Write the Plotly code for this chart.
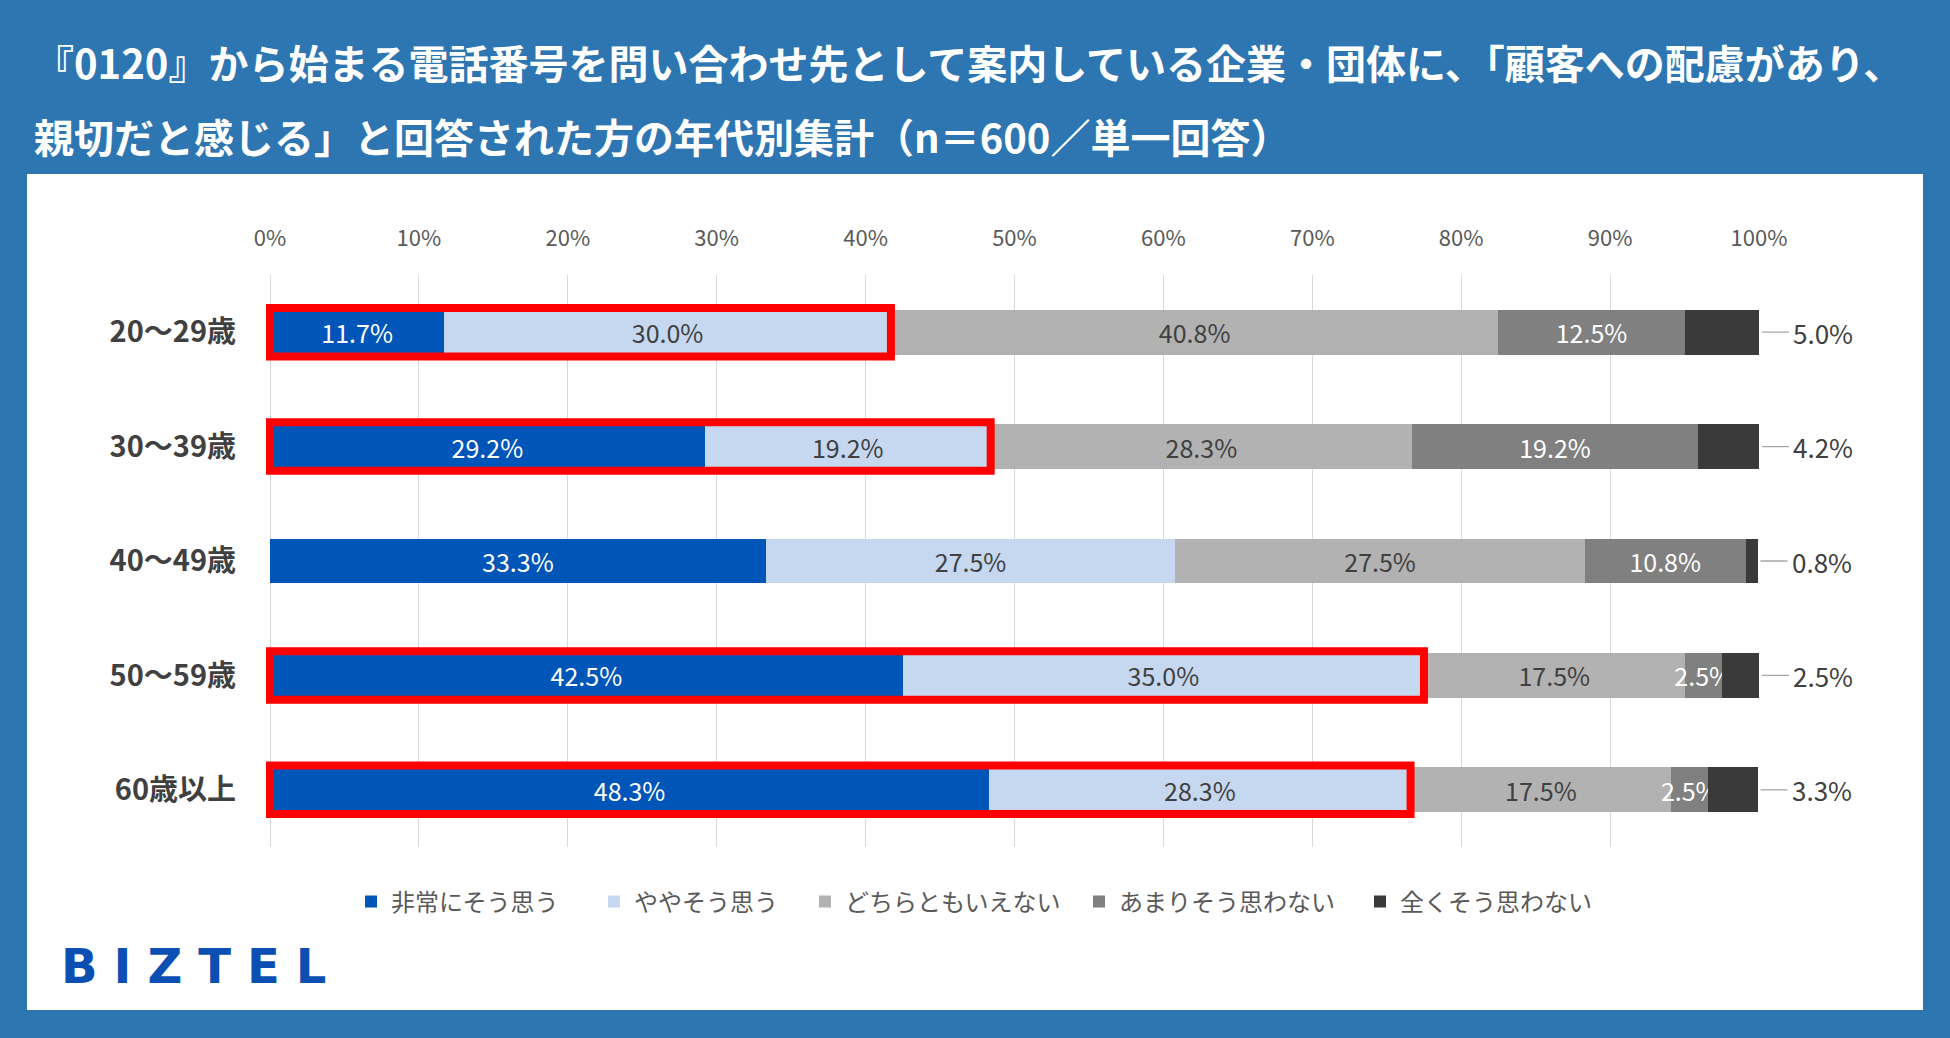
import plotly.graph_objects as go

categories = ["20〜29歳", "30〜39歳", "40〜49歳", "50〜59歳", "60歳以上"]
series_names = ["非常にそう思う", "ややそう思う", "どちらともいえない", "あまりそう思わない", "全くそう思わない"]
v_very = [11.7, 29.2, 33.3, 42.5, 48.3]
v_some = [30.0, 19.2, 27.5, 35.0, 28.3]
v_neutral = [40.8, 28.3, 27.5, 17.5, 17.5]
v_notmuch = [12.5, 19.2, 10.8, 2.5, 2.5]
v_notatall = [5.0, 4.2, 0.8, 2.5, 3.3]
highlight = [True, True, False, True, True]
x_ticks = [0, 10, 20, 30, 40, 50, 60, 70, 80, 90, 100]

title_line1 = "『0120』から始まる電話番号を問い合わせ先として案内している企業・団体に、「顧客への配慮があり、"
title_line2 = "親切だと感じる」と回答された方の年代別集計（n＝600／単一回答）"

colors = ["#0055B8", "#C6D8F0", "#B2B2B2", "#808080", "#3A3A3A"]
text_colors = ["#FFFFFF", "#404040", "#404040", "#FFFFFF", "#FFFFFF"]
series = [v_very, v_some, v_neutral, v_notmuch, v_notatall]
legend_square_px = [376, 619, 830, 1104, 1385]

JP = "Noto Sans CJK JP"

W, H = 1950, 1038
L, R, T, B = 263, 191, 275, 191
PW, PH = W - L - R, H - T - B
X_MIN = -0.47


def px_x(px):
    return (px - L) / PW


def px_y(py):
    return (H - B - py) / PH


fig = go.Figure()
for k, (name, vals) in enumerate(zip(series_names, series)):
    last = k == len(series) - 1
    fig.add_trace(go.Bar(
        y=categories, x=vals, name=name, orientation="h",
        marker=dict(color=colors[k], line=dict(width=0)),
        width=0.39,
        text=None if last else [f"{v:.1f}%" for v in vals],
        textposition="inside", insidetextanchor="middle", textangle=0,
        constraintext="none", cliponaxis=False,
        insidetextfont=dict(family=JP, size=25, color=text_colors[k]),
        hovertemplate="%{y}: %{x:.1f}%<extra>" + name + "</extra>",
        legend="legend" if k == 0 else f"legend{k + 1}",
    ))

shapes = [dict(type="rect", xref="paper", yref="paper", layer="below",
               x0=px_x(27), x1=px_x(1923), y0=px_y(1010), y1=px_y(174),
               fillcolor="#FFFFFF", line=dict(width=0))]
annotations = []
for i, cat in enumerate(categories):
    if highlight[i]:
        shapes.append(dict(type="rect", xref="x", yref="y", layer="above",
                           x0=0, x1=v_very[i] + v_some[i], y0=i - 0.212, y1=i + 0.212,
                           line=dict(color="#FF0000", width=8), fillcolor="rgba(0,0,0,0)"))
    total = sum(s[i] for s in series)
    annotations.append(dict(x=min(total, 100), y=cat, xref="x", yref="y",
                            text=f"{v_notatall[i]:.1f}%", showarrow=True, arrowhead=0,
                            arrowwidth=1.3, arrowcolor="#A6A6A6", ax=30, ay=0,
                            xanchor="left", standoff=3, borderpad=3,
                            font=dict(family=JP, size=26, color="#404040")))

annotations += [
    dict(xref="paper", yref="paper", x=px_x(32), y=px_y(62), xanchor="left", yanchor="middle",
         text=title_line1, showarrow=False,
         font=dict(family=JP, size=40, color="#FFFFFF", weight="bold")),
    dict(xref="paper", yref="paper", x=px_x(32), y=px_y(136), xanchor="left", yanchor="middle",
         text=title_line2, showarrow=False,
         font=dict(family=JP, size=40, color="#FFFFFF", weight="bold")),
    dict(xref="paper", yref="paper", x=px_x(59), y=px_y(966), xanchor="left", yanchor="middle",
         text='<span style="letter-spacing:16px">BIZTEL</span>', showarrow=False,
         font=dict(family="DejaVu Sans", size=48, color="#0B4FB3", weight="bold")),
]

legends = {}
for k in range(len(series_names)):
    key = "legend" if k == 0 else f"legend{k + 1}"
    legends[key] = dict(orientation="h", x=px_x(legend_square_px[k] - 25), xanchor="left",
                        y=px_y(902), yanchor="middle",
                        font=dict(family=JP, size=24, color="#595959"),
                        bgcolor="rgba(0,0,0,0)", borderwidth=0)

fig.update_layout(
    width=W, height=H, margin=dict(l=L, r=R, t=T, b=B, pad=0),
    paper_bgcolor="#2D76B1", plot_bgcolor="#FFFFFF",
    barmode="stack",
    shapes=shapes, annotations=annotations,
    font=dict(family=JP, color="#595959"),
    xaxis=dict(range=[X_MIN, 100], side="top", tickvals=x_ticks, ticktext=[f"{t}%" for t in x_ticks],
               showgrid=True, gridcolor="#D9D9D9", gridwidth=1, zeroline=False, showline=False,
               ticks="", ticklabelstandoff=24, tickfont=dict(family=JP, size=22, color="#595959"),
               fixedrange=True),
    yaxis=dict(categoryorder="array", categoryarray=categories, autorange="reversed",
               showgrid=False, zeroline=False, showline=False, ticks="", ticklabelstandoff=26,
               tickfont=dict(family=JP, size=29, color="#404040", weight="bold"), fixedrange=True),
    showlegend=True,
    **legends,
)

fig.write_html("out.html", config={"displayModeBar": False},
               post_script="document.body.style.margin='0';document.body.style.overflow='hidden';")
